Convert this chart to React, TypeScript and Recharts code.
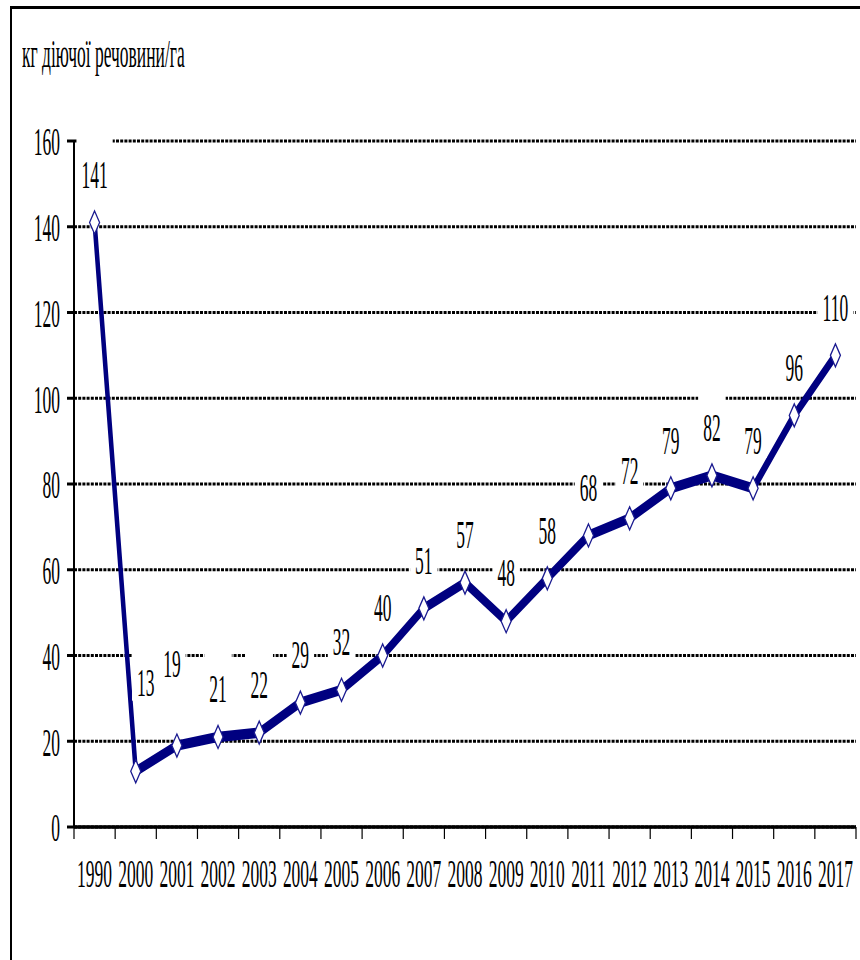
import React from "react";
import { LineChart, Line, XAxis, YAxis, CartesianGrid, LabelList } from "recharts";

const years = [
  "1990", "2000", "2001", "2002", "2003", "2004", "2005", "2006", "2007",
  "2008", "2009", "2010", "2011", "2012", "2013", "2014", "2015", "2016", "2017",
];
const amounts = [141, 13, 19, 21, 22, 29, 32, 40, 51, 57, 48, 58, 68, 72, 79, 82, 79, 96, 110];
const yTicks = [0, 20, 40, 60, 80, 100, 120, 140, 160];
const unitTitle = "кг діючої речовини/га";

const chartData = years.map((year, i) => ({ year, value: amounts[i] }));

// the whole chart is drawn squat and then stretched vertically
const STRETCH = 2.3;
const W = 860;
const H = 960 / STRETCH;
const AXIS_W = 74;
const RIGHT = 4;
const TOP = 141 / STRETCH;
const BOTTOM = H - 827 / STRETCH;
const BAND = (W - AXIS_W - RIGHT) / years.length;

const SERIF = '"Liberation Serif", "Times New Roman", serif';
const FS = 17.5;
const NAVY = "#000080";

// labels that sit off their usual spot above the point
const labelShift: Record<number, [number, number]> = {
  1: [10, -38.7],
  2: [-5, -36],
};

function YearTick(props: any) {
  const { x, y, payload, index } = props;
  const left = x - BAND / 2;
  return (
    <g>
      <line x1={left} x2={left} y1={y} y2={y + 5.2} stroke="#000" strokeWidth={1.2} />
      {index === years.length - 1 && (
        <line x1={x + BAND / 2} x2={x + BAND / 2} y1={y} y2={y + 5.2} stroke="#000" strokeWidth={1.2} />
      )}
      <text x={x} y={y + 26} textAnchor="middle" fontSize={FS} fontFamily={SERIF} fill="#000">
        {payload.value}
      </text>
    </g>
  );
}

function Diamond(props: any) {
  const { cx, cy, index } = props;
  if (cx == null || cy == null) return <g key={`d${index}`} />;
  const r = 5;
  return (
    <polygon
      key={`d${index}`}
      points={`${cx},${cy - r} ${cx + r},${cy} ${cx},${cy + r} ${cx - r},${cy}`}
      fill="#fff"
      stroke="#1a1a90"
      strokeWidth={1}
    />
  );
}

function ValueLabel(props: any) {
  const { x, y, value, index } = props;
  const [dx, dy] = labelShift[index] ?? [0, -21.3];
  const lx = x + dx;
  const ly = y + dy;
  const w = String(value).length * 8.75 + 10;
  return (
    <g>
      <rect x={lx - w / 2} y={ly - 15} width={w} height={23} fill="#fff" />
      <text x={lx} y={ly + 6.2} textAnchor="middle" fontSize={FS} fontFamily={SERIF} fill="#000">
        {value}
      </text>
    </g>
  );
}

export default function App() {
  return (
    <div
      style={{
        position: "absolute",
        left: 0,
        top: 0,
        width: 860,
        height: 960,
        overflow: "hidden",
        background: "#fff",
      }}
    >
      <div
        style={{
          position: "absolute",
          left: 10,
          top: 6,
          width: 900,
          height: 1000,
          borderLeft: "2px solid #000",
          borderTop: "3px solid #000",
        }}
      />
      <div
        style={{
          position: "absolute",
          left: 0,
          top: 0,
          width: W,
          height: H,
          transform: `scaleY(${STRETCH})`,
          transformOrigin: "0 0",
        }}
      >
        <svg width={W} height={40} style={{ position: "absolute", left: 0, top: 0 }}>
          <text x={22} y={29} fontSize={FS} fontFamily={SERIF} fill="#000">
            {unitTitle}
          </text>
        </svg>
        <div style={{ position: "absolute", left: 0, top: 0 }}>
          <LineChart
            width={W}
            height={H}
            data={chartData}
            margin={{ top: TOP, right: RIGHT, bottom: 0, left: 0 }}
          >
            <CartesianGrid
              horizontal
              vertical={false}
              stroke="#000"
              strokeWidth={1.4}
              strokeDasharray="3 1.2"
            />
            <XAxis
              dataKey="year"
              scale="band"
              height={BOTTOM}
              interval={0}
              tickLine={false}
              tickSize={0}
              tickMargin={0}
              axisLine={{ stroke: "#000", strokeWidth: 1.5 }}
              tick={<YearTick />}
            />
            <YAxis
              width={AXIS_W}
              domain={[0, 160]}
              ticks={yTicks}
              interval={0}
              tickSize={7}
              tickMargin={7}
              axisLine={{ stroke: "#000", strokeWidth: 2 }}
              tickLine={{ stroke: "#000", strokeWidth: 1.3 }}
              tick={{ fontSize: FS, fill: "#000", fontFamily: SERIF }}
            />
            <Line
              type="linear"
              dataKey="value"
              stroke={NAVY}
              strokeWidth={4.5}
              dot={Diamond}
              activeDot={false}
              isAnimationActive={false}
            >
              <LabelList dataKey="value" content={ValueLabel} />
            </Line>
          </LineChart>
        </div>
      </div>
    </div>
  );
}
